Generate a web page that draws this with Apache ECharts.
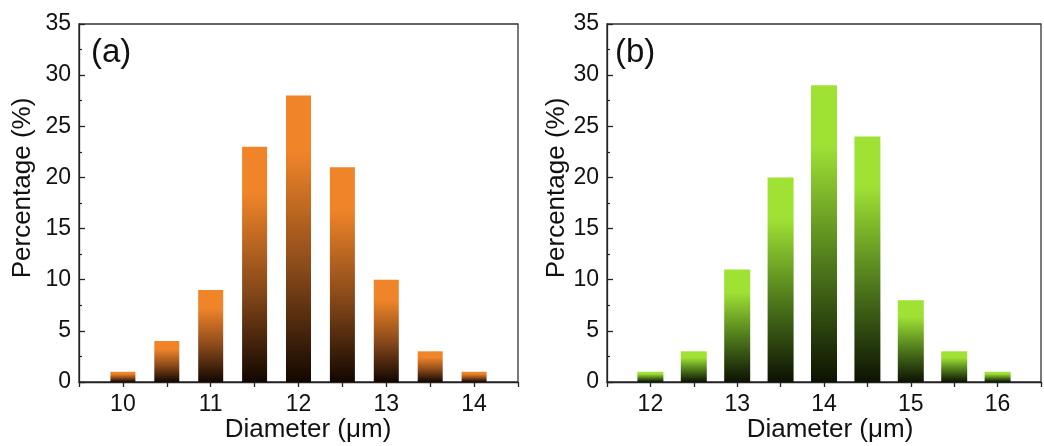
<!DOCTYPE html>
<html>
<head>
<meta charset="utf-8">
<script src="https://cdn.jsdelivr.net/npm/echarts@6/dist/echarts.min.js"></script>
<style>
  html, body { margin: 0; padding: 0; background: #fff; }
  #chart { width: 1044px; height: 446px; }
</style>
</head>
<body>
<div id="chart"></div>
<script>
// diameters (um) and percentages
var diamA = [10, 10.5, 11, 11.5, 12, 12.5, 13, 13.5, 14];
var pctA = [1, 4, 9, 23, 28, 21, 10, 3, 1];
var diamB = [12, 12.5, 13, 13.5, 14, 14.5, 15, 15.5, 16];
var pctB = [1, 3, 11, 20, 29, 24, 8, 3, 1];
var yTicks = [0, 5, 10, 15, 20, 25, 30, 35];

var FONT = 'Liberation Sans, Arial, sans-serif';

function pairs(xs, ys) {
    var out = [];
    for (var i = 0; i < xs.length; i++) out.push([xs[i], ys[i]]);
    return out;
}

function grad(top, mid, bottom) {
    return new echarts.graphic.LinearGradient(0, 0, 0, 1, [
        { offset: 0, color: top },
        { offset: 0.2, color: top },
        { offset: 0.6, color: mid },
        { offset: 1, color: bottom }
    ]);
}

function xAxisFor(idx, min, max) {
    return {
        type: 'value', gridIndex: idx, min: min, max: max, interval: 0.5,
        axisLine: { lineStyle: { color: '#222', width: 1.3 } },
        axisTick: { inside: false, length: 5, lineStyle: { color: '#222', width: 1.3 } },
        splitLine: { show: false },
        axisLabel: {
            margin: 11, color: '#111', fontSize: 23, fontFamily: FONT,
            formatter: function (v) { return Math.abs(v - Math.round(v)) < 1e-6 ? String(Math.round(v)) : ''; }
        }
    };
}

function yAxisFor(idx) {
    return {
        type: 'value', gridIndex: idx, min: yTicks[0], max: yTicks[yTicks.length - 1], interval: 5,
        axisLine: { show: true, lineStyle: { color: '#222', width: 1.3 } },
        axisTick: { show: true, inside: true, length: 6, lineStyle: { color: '#222', width: 1.3 } },
        minorTick: { show: true, splitNumber: 2, length: 3, lineStyle: { color: '#222', width: 1.2 } },
        splitLine: { show: false },
        axisLabel: { margin: 8, color: '#111', fontSize: 23, fontFamily: FONT }
    };
}

var chart = echarts.init(document.getElementById('chart'));

var option = {
    animation: false,
    backgroundColor: '#fff',
    grid: [
        { left: 79, top: 24, width: 439, height: 358, show: true, borderColor: '#333', borderWidth: 1.3, backgroundColor: 'transparent' },
        { left: 607, top: 24, width: 444, height: 358, show: true, borderColor: '#333', borderWidth: 1.3, backgroundColor: 'transparent' }
    ],
    xAxis: [xAxisFor(0, 9.5, 14.5), xAxisFor(1, 11.5, 16.5)],
    yAxis: [yAxisFor(0), yAxisFor(1)],
    series: [
        {
            type: 'bar', xAxisIndex: 0, yAxisIndex: 0, barWidth: 25,
            data: pairs(diamA, pctA),
            itemStyle: { color: grad('#EF8429', '#8a4a1a', '#120700') }
        },
        {
            type: 'bar', xAxisIndex: 1, yAxisIndex: 1, barWidth: 26,
            data: pairs(diamB, pctB),
            itemStyle: { color: grad('#9FE234', '#4f7a1c', '#0c1202') }
        }
    ],
    graphic: [
        { type: 'text', x: 23, y: 188, rotation: Math.PI / 2,
          style: { text: 'Percentage (%)', fill: '#111', font: '26px ' + FONT, align: 'center', verticalAlign: 'middle' } },
        { type: 'text', x: 557, y: 188, rotation: Math.PI / 2,
          style: { text: 'Percentage (%)', fill: '#111', font: '26px ' + FONT, align: 'center', verticalAlign: 'middle' } },
        { type: 'text', x: 308, y: 430,
          style: { text: 'Diameter (μm)', fill: '#111', font: '26px ' + FONT, align: 'center', verticalAlign: 'middle' } },
        { type: 'text', x: 830, y: 430,
          style: { text: 'Diameter (μm)', fill: '#111', font: '26px ' + FONT, align: 'center', verticalAlign: 'middle' } },
        { type: 'text', x: 91, y: 53,
          style: { text: '(a)', fill: '#111', font: '33px ' + FONT, align: 'left', verticalAlign: 'middle' } },
        { type: 'text', x: 615, y: 53,
          style: { text: '(b)', fill: '#111', font: '33px ' + FONT, align: 'left', verticalAlign: 'middle' } }
    ]
};

chart.setOption(option);
</script>
</body>
</html>
